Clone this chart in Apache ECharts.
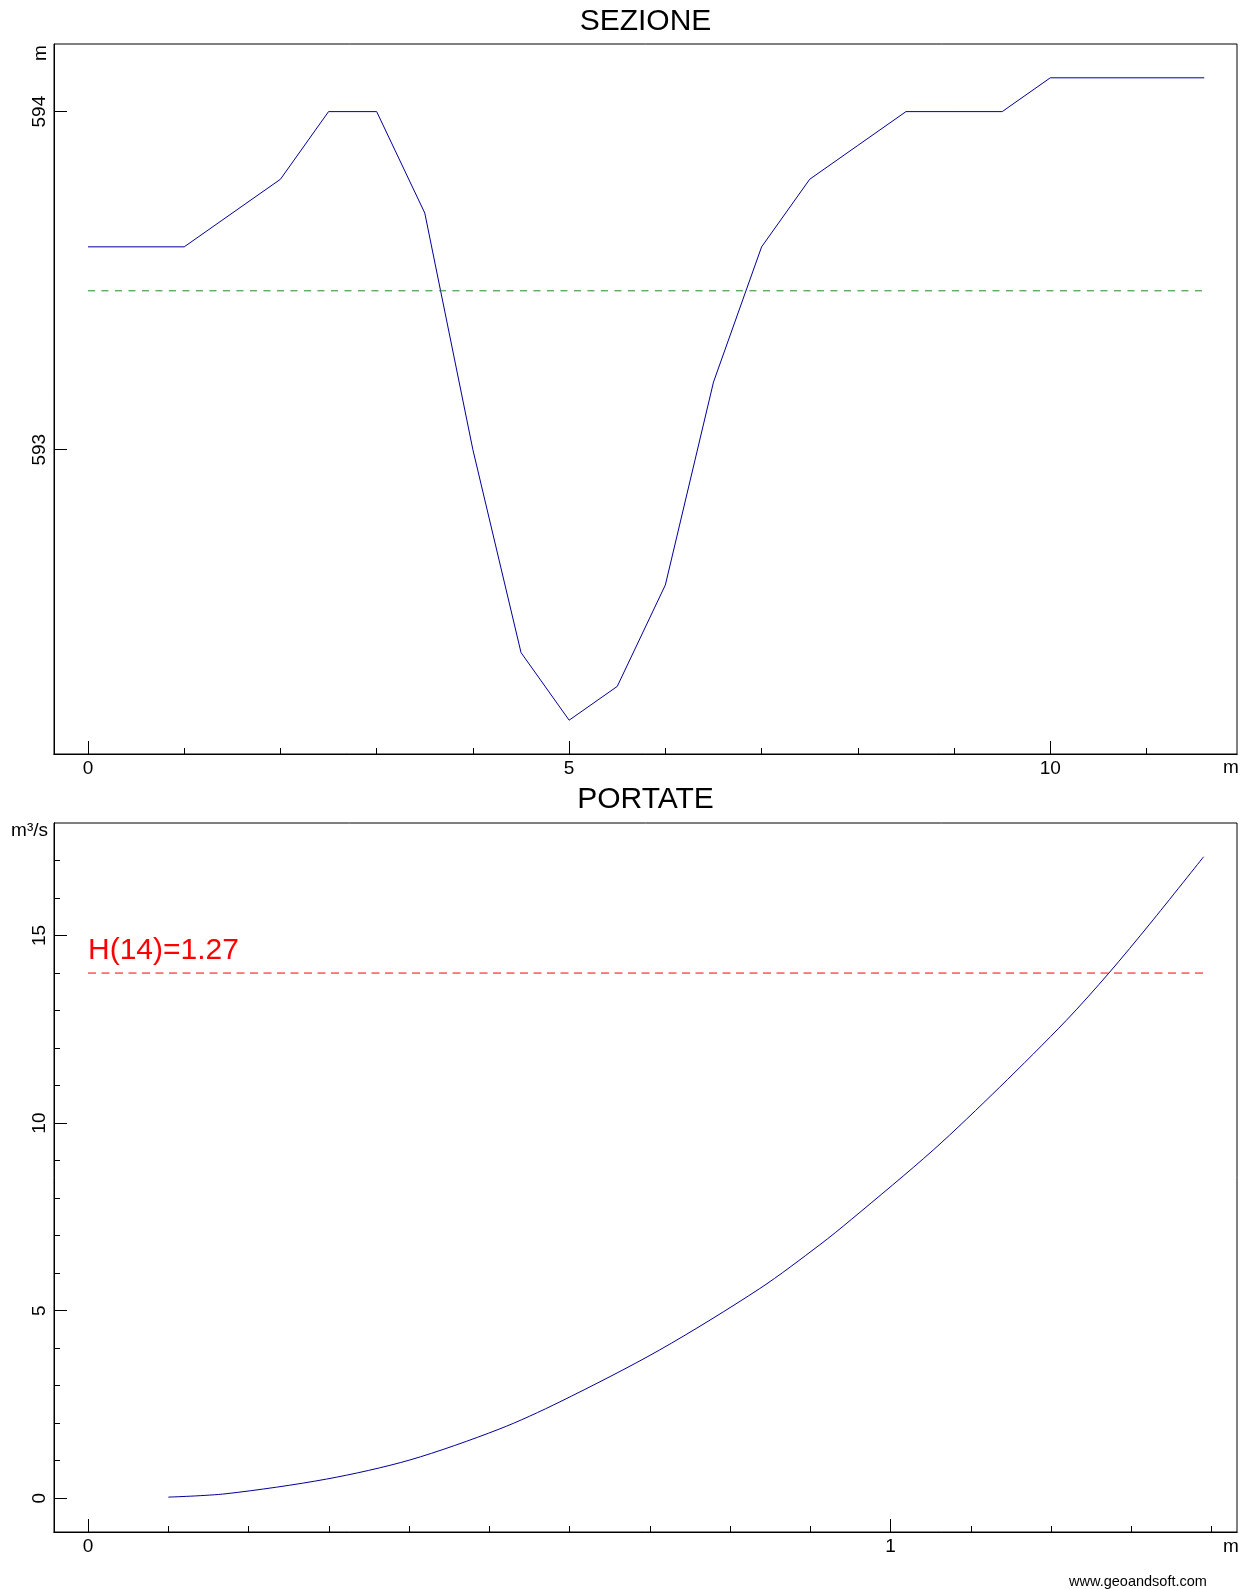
<!DOCTYPE html>
<html>
<head>
<meta charset="utf-8">
<script src="https://cdn.jsdelivr.net/npm/echarts@6/dist/echarts.min.js"></script>
<style>
html, body { margin: 0; padding: 0; background: #fff; }
#main { width: 1250px; height: 1589px; }
</style>
</head>
<body>
<div id="main"></div>
<script>
// sezione: progressiva (m) e quota (m)
var sezX = [0, 1, 2, 2.5, 3, 3.5, 4, 4.5, 5, 5.5, 6, 6.5, 7, 7.5, 8, 8.5, 9, 9.5, 10, 11.6];
var sezY = [593.6, 593.6, 593.8, 594, 594, 593.7, 593, 592.4, 592.2, 592.3, 592.6, 593.2, 593.6, 593.8, 593.9, 594, 594, 594, 594.1, 594.1];
var livello = 593.47;

// scala delle portate: tirante (m) e portata (m3/s)
var tiranti = [0.100, 0.172, 0.297, 0.401, 0.512, 0.588, 0.712, 0.837, 0.912, 0.951, 1.053, 1.136, 1.219, 1.272, 1.323, 1.390];
var portate = [0.03, 0.12, 0.51, 1.02, 1.84, 2.57, 3.95, 5.59, 6.76, 7.43, 9.28, 10.96, 12.74, 14.0, 15.31, 17.10];
var qRif = 14;
var hRif = 1.27;

// tick
var sezXMajor = [0, 5, 10];
var sezXMinor = [1, 2, 3, 4, 6, 7, 8, 9, 11];
var sezYMajor = [593, 594];
var portXMajor = [0, 1];
var portXMinor = [0.1, 0.2, 0.3, 0.4, 0.5, 0.6, 0.7, 0.8, 0.9, 1.1, 1.2, 1.3, 1.4];
var portYMajor = [0, 5, 10, 15];
var portYMinor = [1, 2, 3, 4, 6, 7, 8, 9, 11, 12, 13, 14, 16, 17];

var FONT = 'Liberation Sans';
var chart = echarts.init(document.getElementById('main'));

function zip(a, b) {
  return a.map(function (v, i) { return [v, b[i]]; });
}

function xAxe(grid, min, max, ticks, labels, len) {
  return {
    type: 'value', gridIndex: grid, position: 'bottom', min: min, max: max,
    axisLine: { show: true, onZero: false, lineStyle: { color: '#000', width: 1 } },
    axisTick: { show: true, inside: true, length: len, customValues: ticks, lineStyle: { color: '#000' } },
    axisLabel: labels ? { show: true, customValues: labels, margin: 5, color: '#000', fontSize: 19, fontFamily: FONT } : { show: false },
    splitLine: { show: false }
  };
}

function yAxe(grid, min, max, ticks, labels, len) {
  return {
    type: 'value', gridIndex: grid, position: 'left', min: min, max: max,
    axisLine: { show: true, onZero: false, lineStyle: { color: '#000', width: 1 } },
    axisTick: { show: true, inside: true, length: len, customValues: ticks, lineStyle: { color: '#000' } },
    axisLabel: labels ? { show: true, rotate: 90, customValues: labels, margin: 5, color: '#000', fontSize: 19, fontFamily: FONT } : { show: false },
    splitLine: { show: false }
  };
}

var option = {
  backgroundColor: '#fff',
  animation: false,
  grid: [
    { left: 54, right: 13, top: 44, height: 710, show: true, borderColor: '#000', borderWidth: 1 },
    { left: 54, right: 13, top: 823, height: 709, show: true, borderColor: '#000', borderWidth: 1 }
  ],
  xAxis: [
    xAxe(0, -0.353, 11.94, sezXMajor, sezXMajor, 13),
    xAxe(0, -0.353, 11.94, sezXMinor, null, 6),
    xAxe(1, -0.0424, 1.4316, portXMajor, portXMajor, 13),
    xAxe(1, -0.0424, 1.4316, portXMinor, null, 6)
  ],
  yAxis: [
    yAxe(0, 592.10, 594.20, sezYMajor, sezYMajor, 13),
    yAxe(1, -0.9, 18, portYMajor, portYMajor, 13),
    yAxe(1, -0.9, 18, portYMinor, null, 6)
  ],
  series: [
    {
      type: 'line', xAxisIndex: 0, yAxisIndex: 0, symbol: 'none',
      lineStyle: { color: '#000099', width: 1 },
      data: zip(sezX, sezY)
    },
    {
      type: 'line', xAxisIndex: 0, yAxisIndex: 0, symbol: 'none',
      lineStyle: { color: '#1f8a1f', width: 1, type: [7, 6.5] },
      data: [[sezX[0], livello], [sezX[sezX.length - 1], livello]]
    },
    {
      type: 'line', xAxisIndex: 2, yAxisIndex: 1, symbol: 'none', smooth: 0.3,
      lineStyle: { color: '#000099', width: 1 },
      data: zip(tiranti, portate)
    },
    {
      type: 'line', xAxisIndex: 2, yAxisIndex: 1, symbol: 'none',
      lineStyle: { color: '#ff0000', width: 1, type: [8, 5.5] },
      data: [[0, qRif], [tiranti[tiranti.length - 1], qRif]]
    }
  ],
  graphic: [
    { type: 'text', x: 645.5, y: 22, style: { text: 'SEZIONE', fontSize: 30, fontFamily: FONT, fill: '#000', align: 'center', verticalAlign: 'middle' } },
    { type: 'text', x: 645.5, y: 800, style: { text: 'PORTATE', fontSize: 30, fontFamily: FONT, fill: '#000', align: 'center', verticalAlign: 'middle' } },
    { type: 'text', x: 41, y: 53, rotation: Math.PI / 2, style: { text: 'm', fontSize: 19, fontFamily: FONT, fill: '#000', align: 'center', verticalAlign: 'middle' } },
    { type: 'text', x: 48, y: 831, style: { text: 'm³/s', fontSize: 19, fontFamily: FONT, fill: '#000', align: 'right', verticalAlign: 'middle' } },
    { type: 'text', x: 1231, y: 768, style: { text: 'm', fontSize: 19, fontFamily: FONT, fill: '#000', align: 'center', verticalAlign: 'middle' } },
    { type: 'text', x: 1231, y: 1547, style: { text: 'm', fontSize: 19, fontFamily: FONT, fill: '#000', align: 'center', verticalAlign: 'middle' } },
    { type: 'text', x: 88, y: 951, style: { text: 'H(' + qRif + ')=' + hRif.toFixed(2), fontSize: 30, fontFamily: FONT, fill: '#ff0000', align: 'left', verticalAlign: 'middle' } },
    { type: 'text', x: 1138, y: 1582, style: { text: 'www.geoandsoft.com', fontSize: 14.5, fontFamily: FONT, fill: '#000', align: 'center', verticalAlign: 'middle' } }
  ]
};

chart.setOption(option);
</script>
</body>
</html>
